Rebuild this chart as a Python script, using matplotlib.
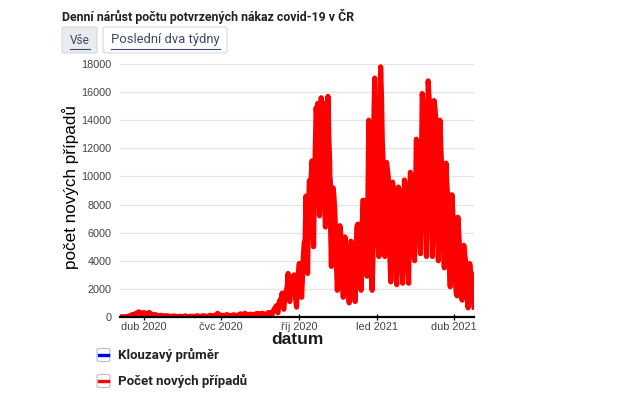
import numpy as np
import pandas as pd
import matplotlib
matplotlib.use("Agg")
import matplotlib.pyplot as plt
from matplotlib.patches import FancyBboxPatch
from matplotlib.lines import Line2D

# daily new confirmed cases (one list per month)
mar_2020 = [3, 0, 2, 0, 3, 11, 11, 13, 7, 22, 23, 22, 46, 66, 75, 85, 84, 164, 184, 183,
            184, 197, 263, 268, 286, 371, 300, 260, 214, 300, 293]
apr_2020 = [251, 300, 270, 215, 153, 215, 323, 220, 260, 180, 110, 90, 120, 180, 165, 120,
            105, 95, 50, 90, 120, 110, 95, 85, 60, 35, 60, 100, 80, 70]
may_2020 = [35, 45, 25, 40, 55, 75, 70, 60, 30, 20, 30, 45, 50, 55, 40, 20, 10, 45, 60, 80,
            55, 40, 20, 20, 40, 60, 45, 50, 45, 30, 25]
jun_2020 = [50, 80, 95, 70, 60, 30, 20, 60, 90, 80, 70, 80, 50, 20, 30, 60, 100, 120, 110, 80,
            40, 100, 70, 130, 150, 190, 260, 150, 100, 120]
jul_2020 = [130, 130, 120, 90, 50, 80, 160, 120, 140, 120, 100, 50, 80, 110, 150, 140, 150,
            120, 60, 90, 140, 120, 170, 230, 170, 90, 130, 200, 270, 220, 190]
aug_2020 = [130, 90, 140, 190, 200, 190, 150, 110, 90, 200, 230, 220, 250, 240, 160, 80, 220,
            260, 250, 230, 190, 140, 90, 200, 290, 300, 330, 280, 220, 150, 350]
sep_2020 = [500, 600, 650, 800, 500, 300, 900, 1160, 1100, 1380, 1700, 800, 550, 1300, 1700,
            1900, 2200, 3100, 1800, 1100, 2000, 2400, 2600, 2900, 3000, 1800, 1200, 700, 2200, 3000]
oct_2020 = [3800, 3600, 2300, 1400, 3000, 4400, 5300, 5400, 8600, 5300, 3100, 7000, 9700, 9500,
            9700, 11100, 7700, 5000, 8900, 11900, 14900, 14100, 15200, 12000, 7200, 9800, 15600,
            12000, 15100, 15200, 8200]
nov_2020 = [6400, 11700, 12100, 15700, 12900, 11000, 6500, 3600, 9000, 9200, 8600, 7600, 6000,
            3600, 1900, 3700, 2200, 6500, 6000, 4500, 2400, 1400, 3700, 5700, 5000, 4600, 3900,
            1900, 1000, 3100]
dec_2020 = [5400, 5300, 5000, 4300, 2100, 1100, 4000, 6400, 6600, 6600, 6300, 3300, 1900, 5400,
            8300, 8300, 8000, 7500, 3800, 2900, 8600, 14000, 11500, 5600, 3000, 1900, 4100, 13900,
            17000, 14500, 12000]
jan_2021 = [5000, 6000, 4300, 12500, 17800, 15800, 12500, 11000, 5000, 4300, 9800, 11000, 10500,
            10000, 8500, 4000, 2500, 8900, 9600, 9200, 8500, 7000, 3500, 2300, 7100, 9250, 9000,
            8400, 7000, 3400, 2400]
feb_2021 = [6000, 9750, 9500, 8800, 7500, 3500, 2400, 7000, 10300, 10000, 9500, 8700, 4500, 4000,
            8000, 12650, 12500, 11000, 10500, 5500, 4500, 10600, 15900, 15000, 14000, 12500,
            7000, 4300]
mar_2021 = [11000, 16800, 15700, 15000, 14000, 7000, 4300, 9500, 15400, 14900, 14000, 12000,
            6000, 4000, 9000, 14000, 12000, 10500, 9000, 5000, 3500, 6500, 10950, 9500, 8500,
            7500, 3500, 2150, 5000, 8700, 7500]
apr_2021 = [6500, 3500, 2800, 1700, 1500, 7100, 6000, 5000, 4200, 2000, 1200, 3500, 5100, 4500,
            4000, 3300, 1600, 650, 2600, 3800, 3200, 3100, 2500, 1200, 700]

month_starts = ["2020-03-01", "2020-04-01", "2020-05-01", "2020-06-01", "2020-07-01",
                "2020-08-01", "2020-09-01", "2020-10-01", "2020-11-01", "2020-12-01",
                "2021-01-01", "2021-02-01", "2021-03-01", "2021-04-01"]
month_values = [mar_2020, apr_2020, may_2020, jun_2020, jul_2020, aug_2020, sep_2020,
                oct_2020, nov_2020, dec_2020, jan_2021, feb_2021, mar_2021, apr_2021]

tick_dates = ["2020-04-01", "2020-07-01", "2020-10-01", "2021-01-01", "2021-04-01"]
tick_labels = ["dub 2020", "čvc 2020", "říj 2020", "led 2021", "dub 2021"]
y_ticks = list(range(0, 18001, 2000))

parts = []
for start, vals in zip(month_starts, month_values):
    idx = pd.date_range(start, periods=len(vals), freq="D")
    parts.append(pd.Series(vals, index=idx, dtype=float))
cases = pd.concat(parts)
avg = cases.rolling(7, min_periods=1, center=True).mean()

W, H = 620, 393
fig = plt.figure(figsize=(W / 100, H / 100), dpi=100)
renderer = fig.canvas.get_renderer()


def fx(x):
    return x / W


def fy(y):
    return 1 - y / H


def fit_text(x, y, s, width, **kw):
    # place text and scale font so it spans `width` pixels
    t = fig.text(fx(x), fy(y), s, **kw)
    for _ in range(3):
        w = t.get_window_extent(renderer).width
        t.set_fontsize(t.get_fontsize() * width / w)
    return t


ax = fig.add_axes([fx(120), fy(317), (474 - 120) / W, (317 - 64) / H])
ax.plot(avg.index, avg.values, color="blue", lw=3.0, solid_joinstyle="round")
ax.plot(cases.index, cases.values, color="red", lw=3.7, solid_joinstyle="round")
ax.set_xlim(pd.Timestamp("2020-03-04"), pd.Timestamp("2021-04-25"))
ax.set_ylim(0, 18000)

ax.set_yticks(y_ticks)
ax.set_yticklabels([str(v) for v in y_ticks], fontsize=7.8, color="#444444",
                   family="Liberation Sans")
ax.tick_params(axis="y", length=0, pad=6)
ax.yaxis.grid(True, color="#e4e4e4", lw=0.9)
ax.set_axisbelow(True)

ax.set_xticks([pd.Timestamp(d) for d in tick_dates])
ax.set_xticklabels(tick_labels, fontsize=7.9, color="#444444", family="Liberation Sans")
ax.tick_params(axis="x", direction="inout", length=5, width=0.9, pad=1)

for side in ["top", "right", "left"]:
    ax.spines[side].set_visible(False)
ax.spines["bottom"].set_linewidth(1.6)

fig.text(fx(297), fy(340), "datum", ha="center", va="center", fontsize=12.5,
         fontweight="bold", family="Liberation Sans", color="#1a1a1a")
fig.text(fx(71), fy(187), "počet nových případů", ha="center", va="center", rotation=90,
         fontsize=12.3, family="Liberation Sans", color="#000000")

# title
fit_text(62, 16.5, "Denní nárůst počtu potvrzených nákaz covid-19 v ČR", 291,
         ha="left", va="center", fontsize=8, fontweight="bold", family="Roboto",
         color="#222222")

# buttons
btn_color = "#3c4a6a"
fig.patches.append(FancyBboxPatch((fx(62), fy(53)), fx(35), 26 / H,
                                  boxstyle="round,pad=0,rounding_size=0.004",
                                  transform=fig.transFigure, facecolor="#e9edf1",
                                  edgecolor="#d4d8dd", lw=0.8))
fig.patches.append(FancyBboxPatch((fx(103), fy(53)), fx(124), 26 / H,
                                  boxstyle="round,pad=0,rounding_size=0.004",
                                  transform=fig.transFigure, facecolor="white",
                                  edgecolor="#d4d8dd", lw=0.8))
for x0, s, w in [(70, "Vše", 20), (111, "Poslední dva týdny", 109)]:
    fit_text(x0, 40, s, w, ha="left", va="center", fontsize=9, family="Roboto",
             color=btn_color)
    fig.lines.append(Line2D([fx(x0), fx(x0 + w)], [fy(48.5), fy(48.5)],
                            transform=fig.transFigure, color=btn_color, lw=0.8))

# legend
for yc, col, label, w in [(355, "blue", "Klouzavý průměr", 100),
                          (381, "red", "Počet nových případů", 129)]:
    fig.patches.append(FancyBboxPatch((fx(97), fy(yc + 6.5)), fx(13), 13 / H,
                                      boxstyle="round,pad=0,rounding_size=0.004",
                                      transform=fig.transFigure, facecolor="white",
                                      edgecolor="#bbbbbb", lw=0.8))
    fig.lines.append(Line2D([fx(99), fx(108)], [fy(yc), fy(yc)],
                            transform=fig.transFigure, color=col, lw=2.4))
    fit_text(118, yc, label, w, ha="left", va="center", fontsize=8.5,
             fontweight="semibold", family="Roboto", color="#222222")

fig.savefig("out.png", dpi=100)
